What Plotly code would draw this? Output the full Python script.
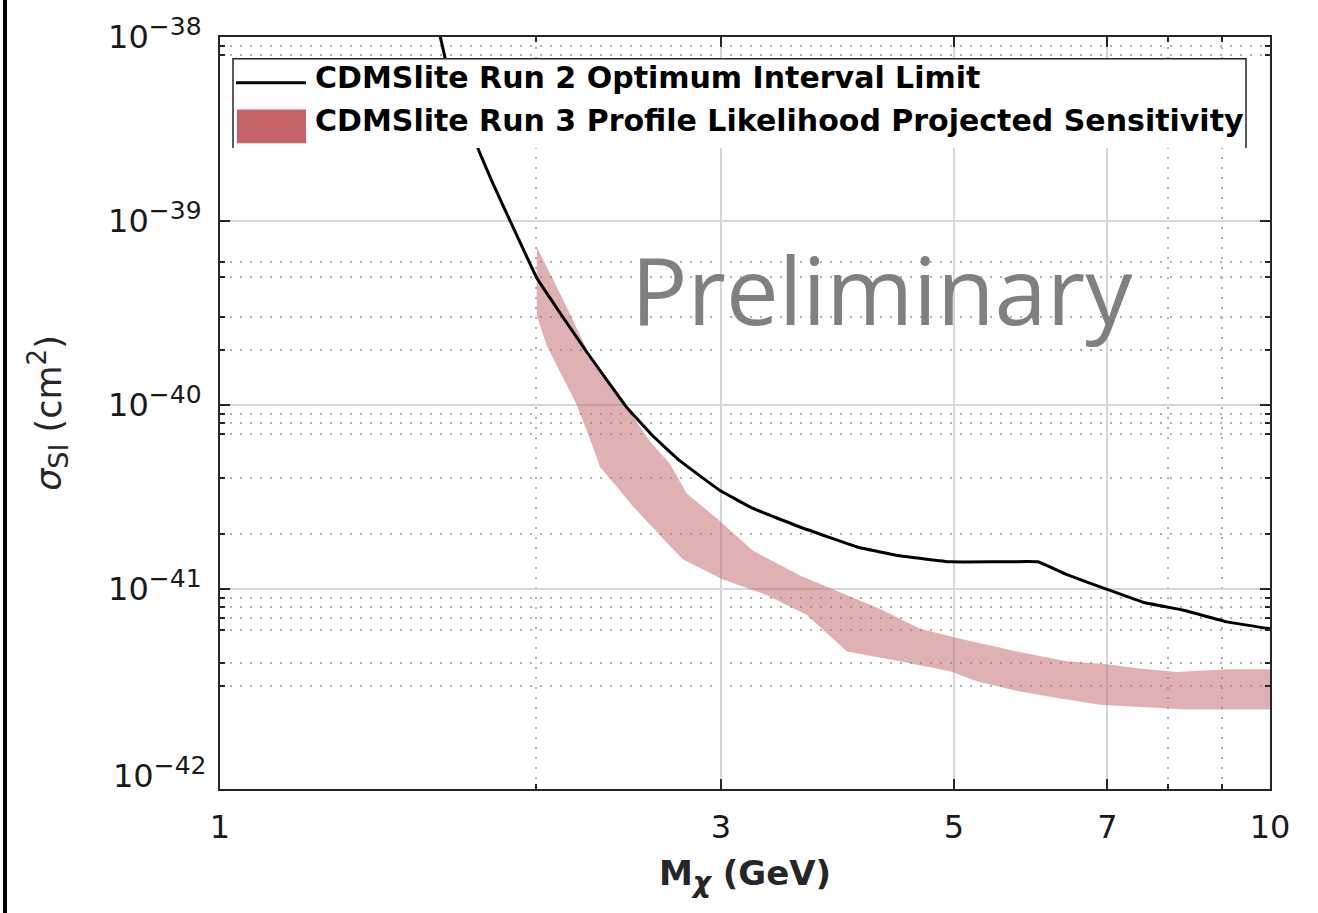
import plotly.graph_objects as go

# ---------------- data ----------------
limit_mass = [1.615, 1.624, 1.642, 1.768, 1.816, 2.004, 2.108, 2.236, 2.441, 2.584,
              2.742, 2.994, 3.218, 3.567, 4.070, 4.443, 4.957, 5.500, 6.012, 6.408, 6.995,
              7.569, 8.263, 9.101, 10.0]
limit_xsec = [1.10e-38, 9.58e-39, 7.30e-39, 2.34e-39, 1.64e-39, 4.89e-40, 3.17e-40, 1.94e-40,
              9.70e-41, 6.80e-41, 4.98e-41, 3.44e-41, 2.75e-41, 2.18e-41, 1.68e-41, 1.52e-41,
              1.41e-41, 1.41e-41, 1.41e-41, 1.20e-41, 1.00e-41, 8.51e-42, 7.71e-42, 6.65e-42, 6.10e-42]

band_upper_mass = [2.003, 2.121, 2.266, 2.441, 2.567, 2.683, 2.783, 2.972, 3.218, 3.567,
                   3.895, 4.253, 4.642, 5.068, 5.741, 6.408, 6.995, 7.470, 8.155, 9.101, 10.0]
band_upper_xsec = [7.26e-40, 3.77e-40, 1.71e-40, 9.70e-41, 6.37e-41, 4.80e-41, 3.31e-41, 2.43e-41,
                   1.62e-41, 1.19e-41, 9.64e-42, 7.81e-42, 6.10e-42, 5.39e-42, 4.59e-42, 4.06e-42,
                   3.91e-42, 3.72e-42, 3.55e-42, 3.68e-42, 3.68e-42]

band_lower_mass = [2.003, 2.047, 2.186, 2.266, 2.301, 2.404, 2.474, 2.664, 2.761, 3.013,
                   3.319, 3.622, 3.955, 4.443, 4.957, 5.260, 5.741, 6.268, 6.889, 7.687,
                   8.337, 10.0]
band_lower_xsec = [3.06e-40, 2.11e-40, 1.01e-40, 5.91e-41, 4.62e-41, 3.44e-41, 2.82e-41, 1.79e-41,
                   1.45e-41, 1.13e-41, 9.29e-42, 7.26e-42, 4.59e-42, 4.06e-42, 3.59e-42, 3.17e-42,
                   2.80e-42, 2.57e-42, 2.36e-42, 2.27e-42, 2.22e-42, 2.22e-42]

x_tick_vals = [1, 3, 5, 7, 10]
x_tick_text = ["1", "3", "5", "7", "10"]
x_minor_vals = [2, 8, 9]
y_tick_vals = [1e-38, 1e-39, 1e-40, 1e-41]
y_exponents = ["\u221238", "\u221239", "\u221240", "\u221241"]
y_bottom_exponent = "\u221242"
y_minor_vals = [9e-39, 8e-39, 6e-40, 5e-40, 3e-40, 2e-40, 9e-41, 8e-41, 7e-41, 4e-41, 2e-41,
                9e-42, 8e-42, 7e-42, 6e-42, 4e-42, 3e-42]

legend_labels = ["CDMSlite Run 2 Optimum Interval Limit",
                 "CDMSlite Run 3 Profile Likelihood Projected Sensitivity"]

# ---------------- styling ----------------
AX = "#262626"
BAND_FILL = "rgba(193,99,103,0.5)"
BAND_SWATCH = "rgb(196,100,104)"
TICKFONT = dict(family="DejaVu Sans", size=32, color="#1a1a1a")


def power_label(exp):
    return f"10<sup><span style='font-size:25px'>{exp}</span></sup>"


y_tick_text = [power_label(e) for e in y_exponents]

fig = go.Figure()

band_x = band_upper_mass + band_lower_mass[::-1]
band_y = band_upper_xsec + band_lower_xsec[::-1]
fig.add_trace(go.Scatter(x=band_x, y=band_y, mode="lines", fill="toself",
                         fillcolor=BAND_FILL, line=dict(width=0, color=BAND_FILL),
                         name=legend_labels[1], showlegend=False, hoverinfo="skip"))
fig.add_trace(go.Scatter(x=limit_mass, y=limit_xsec, mode="lines",
                         line=dict(color="black", width=3, shape="spline", smoothing=0.2),
                         name=legend_labels[0], showlegend=False))

L, R, T, B = 220, 48, 31, 124
W, H = 1318, 913
PW, PH = W - L - R, H - T - B


def px_x(px):
    return (px - L) / PW


def px_y(py):
    return (H - B - py) / PH


shapes = []
# legend box (white background, left/top/right border)
shapes.append(dict(type="rect", xref="paper", yref="paper",
                   x0=px_x(233), x1=px_x(1246), y0=px_y(143), y1=px_y(53),
                   fillcolor="white", line=dict(width=0), layer="above"))
shapes.append(dict(type="path", xref="paper", yref="paper",
                   path=f"M{px_x(233)},{px_y(143)} L{px_x(233)},{px_y(53)} L{px_x(1246)},{px_y(53)} L{px_x(1246)},{px_y(143)}",
                   line=dict(color=AX, width=1.5), layer="above"))
shapes.append(dict(type="line", xref="paper", yref="paper",
                   x0=px_x(236), x1=px_x(306), y0=px_y(77), y1=px_y(77),
                   line=dict(color="black", width=3), layer="above"))
shapes.append(dict(type="rect", xref="paper", yref="paper",
                   x0=px_x(237), x1=px_x(306), y0=px_y(138), y1=px_y(104),
                   fillcolor=BAND_SWATCH, line=dict(width=0), layer="above"))
# dark edge at the far left of the picture
shapes.append(dict(type="line", xref="paper", yref="paper",
                   x0=px_x(5), x1=px_x(5), y0=-0.3, y1=1.2,
                   line=dict(color="black", width=4), layer="above"))

annotations = [
    dict(text=legend_labels[0], xref="paper", yref="paper", x=px_x(313), y=px_y(72),
         xanchor="left", yanchor="middle", showarrow=False,
         font=dict(family="DejaVu Sans", size=30, color="black", weight="bold")),
    dict(text=legend_labels[1], xref="paper", yref="paper", x=px_x(313), y=px_y(115),
         xanchor="left", yanchor="middle", showarrow=False,
         font=dict(family="DejaVu Sans", size=30, color="black", weight="bold")),
    dict(text="Preliminary", xref="paper", yref="paper", x=px_x(882), y=px_y(285),
         xanchor="center", yanchor="middle", showarrow=False,
         font=dict(family="Open Sans", size=94, color="#808080")),
    dict(text=power_label(y_bottom_exponent), xref="paper", yref="y", x=px_x(208), y=-42,
         xanchor="right", yanchor="middle", showarrow=False, font=TICKFONT),
]

fig.update_layout(
    width=W, height=H, autosize=False,
    margin=dict(l=L, r=R, t=T, b=B, pad=0),
    paper_bgcolor="white", plot_bgcolor="white",
    showlegend=False,
    shapes=shapes, annotations=annotations,
    xaxis=dict(type="log", range=[0, 1], tickmode="array", tickvals=x_tick_vals,
               ticktext=x_tick_text, ticks="inside", ticklen=10, tickwidth=1.5, tickcolor=AX,
               showline=True, linecolor=AX, linewidth=2, mirror="allticks",
               showgrid=True, gridcolor="#d6d6d6", gridwidth=1.5, zeroline=False,
               tickfont=TICKFONT, ticklabelstandoff=9,
               minor=dict(tickmode="array", tickvals=x_minor_vals, ticks="inside", ticklen=5,
                          tickcolor=AX, showgrid=True, gridcolor="#b0b0b0",
                          griddash="2px,8px", gridwidth=1.5),
               title=dict(text="M<sub><span style='font-size:28px'><i>\u03c7</i></span></sub> (GeV)",
                          standoff=16,
                          font=dict(family="DejaVu Sans", size=34, color=AX, weight="bold"))),
    yaxis=dict(type="log", range=[-42.085, -37.9995], tickmode="array", tickvals=y_tick_vals,
               ticktext=y_tick_text, ticks="inside", ticklen=10, tickwidth=1.5, tickcolor=AX,
               showline=True, linecolor=AX, linewidth=2, mirror="allticks",
               showgrid=True, gridcolor="#d6d6d6", gridwidth=1.5, zeroline=False,
               tickfont=TICKFONT, ticklabelstandoff=10,
               minor=dict(tickmode="array", tickvals=y_minor_vals, ticks="inside", ticklen=5,
                          tickcolor=AX, showgrid=True, gridcolor="#b0b0b0",
                          griddash="2px,8px", gridwidth=1.5),
               title=dict(text="<i>\u03c3</i><sub><span style='font-size:27px'>SI</span></sub> (cm<sup><span style='font-size:26px'>2</span></sup>)",
                          standoff=36,
                          font=dict(family="DejaVu Sans", size=35, color=AX))),
)

fig.write_html("out.html")
